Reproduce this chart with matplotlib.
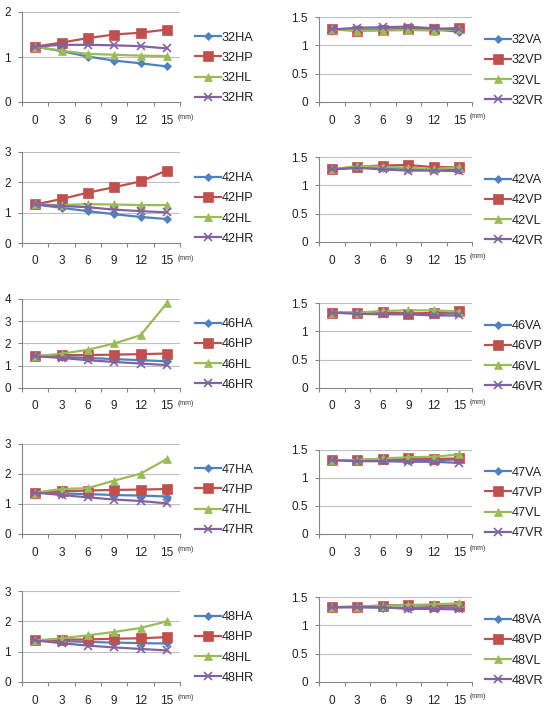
import matplotlib
matplotlib.use("Agg")
import matplotlib.pyplot as plt
from matplotlib.transforms import blended_transform_factory

plt.rcParams['font.family'] = ['Liberation Sans', 'DejaVu Sans']

categories = ["0", "3", "6", "9", "12", "15"]
suffixes = ["A", "P", "L", "R"]

# Horizontal (H) series
h32 = {"A": [1.23, 1.13, 1.01, 0.92, 0.86, 0.79],
       "P": [1.23, 1.32, 1.42, 1.50, 1.54, 1.61],
       "L": [1.23, 1.14, 1.07, 1.05, 1.03, 1.02],
       "R": [1.23, 1.27, 1.27, 1.26, 1.24, 1.19]}
h42 = {"A": [1.27, 1.16, 1.05, 0.95, 0.86, 0.79],
       "P": [1.27, 1.45, 1.66, 1.84, 2.03, 2.39],
       "L": [1.27, 1.25, 1.28, 1.27, 1.25, 1.25],
       "R": [1.27, 1.22, 1.18, 1.10, 1.05, 1.01]}
h46 = {"A": [1.43, 1.40, 1.35, 1.30, 1.25, 1.20],
       "P": [1.43, 1.48, 1.48, 1.50, 1.52, 1.55],
       "L": [1.43, 1.54, 1.72, 2.00, 2.37, 3.81],
       "R": [1.43, 1.35, 1.25, 1.17, 1.10, 1.03]}
h47 = {"A": [1.38, 1.35, 1.33, 1.30, 1.28, 1.25],
       "P": [1.38, 1.42, 1.45, 1.47, 1.48, 1.50],
       "L": [1.38, 1.50, 1.53, 1.78, 2.01, 2.50],
       "R": [1.38, 1.30, 1.22, 1.15, 1.10, 1.02]}
h48 = {"A": [1.37, 1.35, 1.32, 1.30, 1.28, 1.27],
       "P": [1.37, 1.40, 1.40, 1.43, 1.44, 1.48],
       "L": [1.37, 1.44, 1.54, 1.65, 1.78, 2.00],
       "R": [1.37, 1.28, 1.20, 1.14, 1.09, 1.04]}

# Vertical (V) series
v32 = {"A": [1.28, 1.28, 1.28, 1.29, 1.28, 1.24],
       "P": [1.28, 1.26, 1.27, 1.28, 1.28, 1.31],
       "L": [1.28, 1.26, 1.26, 1.27, 1.26, 1.28],
       "R": [1.28, 1.31, 1.32, 1.33, 1.30, 1.28]}
v42 = {"A": [1.28, 1.31, 1.30, 1.28, 1.28, 1.27],
       "P": [1.28, 1.33, 1.35, 1.36, 1.32, 1.32],
       "L": [1.28, 1.34, 1.33, 1.31, 1.29, 1.32],
       "R": [1.28, 1.31, 1.28, 1.26, 1.26, 1.25]}
v46 = {"A": [1.33, 1.32, 1.32, 1.32, 1.30, 1.33],
       "P": [1.33, 1.33, 1.34, 1.31, 1.33, 1.36],
       "L": [1.33, 1.33, 1.36, 1.37, 1.37, 1.35],
       "R": [1.33, 1.31, 1.30, 1.30, 1.28, 1.28]}
v47 = {"A": [1.32, 1.31, 1.32, 1.32, 1.32, 1.33],
       "P": [1.32, 1.32, 1.34, 1.35, 1.34, 1.35],
       "L": [1.32, 1.32, 1.35, 1.37, 1.38, 1.42],
       "R": [1.32, 1.30, 1.30, 1.29, 1.29, 1.27]}
v48 = {"A": [1.32, 1.32, 1.31, 1.31, 1.32, 1.31],
       "P": [1.32, 1.33, 1.35, 1.36, 1.35, 1.35],
       "L": [1.32, 1.33, 1.34, 1.36, 1.37, 1.39],
       "R": [1.32, 1.32, 1.32, 1.29, 1.29, 1.28]}

left_panels = [("32H", h32, [0, 1, 2]), ("42H", h42, [0, 1, 2, 3]),
               ("46H", h46, [0, 1, 2, 3, 4]), ("47H", h47, [0, 1, 2, 3]),
               ("48H", h48, [0, 1, 2, 3])]
right_panels = [("32V", v32), ("42V", v42), ("46V", v46), ("47V", v47), ("48V", v48)]
right_ticks = [0, 0.5, 1, 1.5]
right_ticklabels = ["0", "0.5", "1", "1.5"]

colors = {"A": "#4F81BD", "P": "#C0504D", "L": "#9BBB59", "R": "#8064A2"}
markers = {"A": "D", "P": "s", "L": "^", "R": "x"}
msizes = {"A": 4, "P": 6.5, "L": 6, "R": 6}

W, H = 547, 708
fig = plt.figure(figsize=(W / 100, H / 100), dpi=100)

left_rows = [(12, 102), (152, 243), (299, 388), (444, 534), (591, 682)]
right_rows = [(17, 102), (157, 242), (303, 388), (450, 534), (597, 682)]
LX0, LX1 = 22, 180
RX0, RX1 = 319, 472

grid_c = "#BFBFBF"
FS = 8.5
LFS = 9.2
TXT = "#222222"


def style_axes(ax, yticks, yticklabels):
    n = len(categories)
    ax.set_xlim(-0.5, n - 0.5)
    ax.set_ylim(yticks[0], yticks[-1])
    ax.set_yticks(yticks)
    ax.set_yticklabels(yticklabels, fontsize=FS, color=TXT)
    ax.set_xticks(range(n))
    ax.set_xticklabels(categories, fontsize=FS, color=TXT)
    ax.set_xticks([i - 0.5 for i in range(n + 1)], minor=True)
    ax.tick_params(axis='x', which='major', length=0, pad=9)
    ax.tick_params(axis='x', which='minor', length=3, color="#868686", width=0.8)
    ax.tick_params(axis='y', which='major', length=3, color="#868686", width=0.8, pad=5)
    for s in ["top", "right"]:
        ax.spines[s].set_visible(False)
    for s in ["left", "bottom"]:
        ax.spines[s].set_color("#868686")
        ax.spines[s].set_linewidth(0.8)
    for y in yticks[1:]:
        ax.axhline(y, color=grid_c, linewidth=0.8, zorder=0)
    ax.set_axisbelow(True)
    ax.patch.set_alpha(0)
    tr = blended_transform_factory(ax.transData, ax.transAxes)
    ax.text(n - 1 + 0.42, -0.13, "(mm)", transform=tr, fontsize=5,
            ha="left", va="top", color="#333333")


def draw(ax, prefix, data):
    x = list(range(len(categories)))
    for s in suffixes:
        ax.plot(x, data[s], color=colors[s], marker=markers[s],
                markersize=msizes[s], linewidth=1.6,
                markeredgewidth=1.2 if s == "R" else 0.5,
                markeredgecolor=colors[s], label=prefix + s, clip_on=False)


def add_legend(ax, xpx, top, bot):
    cy = 1 - ((top + bot) / 2 + 11) / H
    leg = ax.legend(loc="center left", bbox_to_anchor=(xpx / W, cy),
                    bbox_transform=fig.transFigure, frameon=False, fontsize=LFS,
                    handlelength=2.0, handletextpad=0.1, labelspacing=0.65,
                    borderaxespad=0, borderpad=0)
    for t in leg.get_texts():
        t.set_color(TXT)


for i, (prefix, data, yt) in enumerate(left_panels):
    top, bot = left_rows[i]
    ax = fig.add_axes([LX0 / W, 1 - bot / H, (LX1 - LX0) / W, (bot - top) / H])
    draw(ax, prefix, data)
    style_axes(ax, yt, [str(v) for v in yt])
    add_legend(ax, 195, top, bot)

for i, (prefix, data) in enumerate(right_panels):
    top, bot = right_rows[i]
    ax = fig.add_axes([RX0 / W, 1 - bot / H, (RX1 - RX0) / W, (bot - top) / H])
    draw(ax, prefix, data)
    style_axes(ax, right_ticks, right_ticklabels)
    add_legend(ax, 485, top, bot)

fig.savefig("out.png", dpi=100)
